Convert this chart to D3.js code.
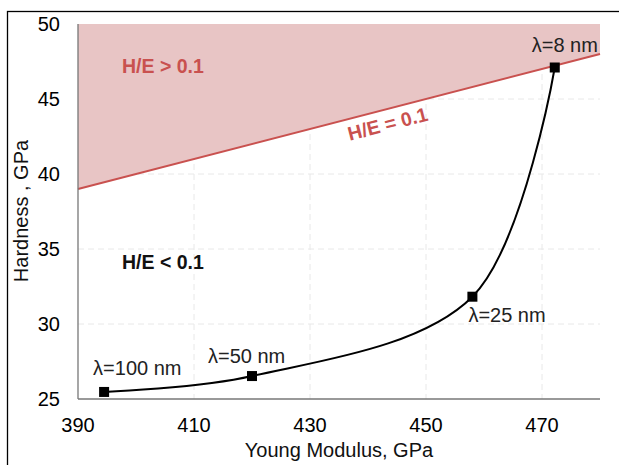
<!DOCTYPE html>
<html>
<head>
<meta charset="utf-8">
<script src="https://cdn.jsdelivr.net/npm/d3@7"></script>
<style>
  body { margin: 0; background: #fff; }
  text { font-family: "Liberation Sans", Arial, sans-serif; }
</style>
</head>
<body>
<div id="chart-container"></div>
<script>
// Chart dimensions and plot area
const W = 619, H = 465;
const margin = { top: 24, right: 19, bottom: 66, left: 78 };
const width = W - margin.left - margin.right;
const height = H - margin.top - margin.bottom;

// Data
const modulus = [394.5, 420, 458, 472.2];
const hardness = [25.47, 26.53, 31.82, 47.1];
const pointLabels = ["λ=100 nm", "λ=50 nm", "λ=25 nm", "λ=8 nm"];
const xTicks = [390, 410, 430, 450, 470];
const yTicks = [25, 30, 35, 40, 45, 50];
const ratio = 0.1; // H/E boundary

const data = modulus.map((e, i) => ({ e, h: hardness[i], label: pointLabels[i] }));

const x = d3.scaleLinear().domain([390, 480]).range([0, width]);
const y = d3.scaleLinear().domain([25, 50]).range([height, 0]);

const root = d3.select("#chart-container")
  .append("svg")
  .attr("width", W)
  .attr("height", H);

// Outer frame (only top and left visible in the crop)
root.append("rect")
  .attr("x", 7.5).attr("y", 11.5)
  .attr("width", W + 20).attr("height", H + 20)
  .attr("fill", "none").attr("stroke", "#000").attr("stroke-width", 1.3);

const svg = root.append("g")
  .attr("transform", `translate(${margin.left},${margin.top})`);

// Grid lines
svg.append("g")
  .selectAll("line")
  .data(xTicks.slice(1))
  .join("line")
  .attr("x1", d => x(d)).attr("x2", d => x(d))
  .attr("y1", 0).attr("y2", height)
  .attr("stroke", "#e8e8e8").attr("stroke-dasharray", "6,4");

svg.append("g")
  .selectAll("line")
  .data(yTicks.slice(1, -1))
  .join("line")
  .attr("x1", 0).attr("x2", width)
  .attr("y1", d => y(d)).attr("y2", d => y(d))
  .attr("stroke", "#e8e8e8").attr("stroke-dasharray", "6,4");

// Shaded region H/E > 0.1
const [e0, e1] = x.domain();
const region = [
  [e0, ratio * e0], [e1, ratio * e1], [e1, 50], [e0, 50]
];
svg.append("path")
  .attr("d", d3.line().x(d => x(d[0])).y(d => y(d[1]))(region) + "Z")
  .attr("fill", "#e8c5c5");

svg.append("line")
  .attr("x1", x(e0)).attr("y1", y(ratio * e0))
  .attr("x2", x(e1)).attr("y2", y(ratio * e1))
  .attr("stroke", "#c9514f").attr("stroke-width", 2);

// Axes lines
svg.append("line")
  .attr("x1", 0).attr("x2", 0).attr("y1", 0).attr("y2", height)
  .attr("stroke", "#777").attr("stroke-width", 1.3);
svg.append("line")
  .attr("x1", 0).attr("x2", width).attr("y1", height).attr("y2", height)
  .attr("stroke", "#777").attr("stroke-width", 1.3);

// Tick labels
svg.append("g")
  .selectAll("text")
  .data(xTicks)
  .join("text")
  .attr("x", d => x(d))
  .attr("y", height + 33)
  .attr("text-anchor", "middle")
  .attr("font-size", 20)
  .text(d => d);

svg.append("g")
  .selectAll("text")
  .data(yTicks)
  .join("text")
  .attr("x", -18)
  .attr("y", d => y(d) + 7)
  .attr("text-anchor", "end")
  .attr("font-size", 20)
  .text(d => d);

// Axis titles
svg.append("text")
  .attr("x", 261)
  .attr("y", height + 58)
  .attr("text-anchor", "middle")
  .attr("font-size", 20)
  .attr("fill", "#111")
  .text("Young Modulus, GPa");

svg.append("text")
  .attr("transform", `translate(${-50},${187}) rotate(-90)`)
  .attr("text-anchor", "middle")
  .attr("font-size", 20)
  .attr("fill", "#111")
  .text("Hardness , GPa");

// Region labels
svg.append("text")
  .attr("x", 44).attr("y", 49)
  .attr("font-size", 19.5).attr("font-weight", "bold")
  .attr("fill", "#c9514f")
  .text("H/E > 0.1");

svg.append("text")
  .attr("x", 44).attr("y", 245)
  .attr("font-size", 19.5).attr("font-weight", "bold")
  .attr("fill", "#111")
  .text("H/E < 0.1");

const angle = Math.atan2(y(ratio * e1) - y(ratio * e0), x(e1) - x(e0)) * 180 / Math.PI;
svg.append("text")
  .attr("transform", `translate(${x(443.4)},${y(ratio * 443.4) + 15}) rotate(${angle})`)
  .attr("text-anchor", "middle")
  .attr("dy", "0.35em")
  .attr("font-size", 19.5).attr("font-weight", "bold")
  .attr("fill", "#c9514f")
  .text("H/E = 0.1");

// Smoothed data line
svg.append("path")
  .datum(data)
  .attr("fill", "none")
  .attr("stroke", "#000")
  .attr("stroke-width", 2)
  .attr("d", d3.line().x(d => x(d.e)).y(d => y(d.h)).curve(d3.curveCatmullRom.alpha(0.5)));

// Markers
svg.append("g")
  .selectAll("rect")
  .data(data)
  .join("rect")
  .attr("x", d => x(d.e) - 5)
  .attr("y", d => y(d.h) - 5)
  .attr("width", 10).attr("height", 10)
  .attr("fill", "#000");

// Point labels
const labelOffset = [[-11, -17], [-44, -13], [-4, 25], [-23, -16]];
svg.append("g")
  .selectAll("text")
  .data(data)
  .join("text")
  .attr("x", (d, i) => x(d.e) + labelOffset[i][0])
  .attr("y", (d, i) => y(d.h) + labelOffset[i][1])
  .attr("font-size", 20)
  .attr("fill", "#222")
  .text(d => d.label);
</script>
</body>
</html>
